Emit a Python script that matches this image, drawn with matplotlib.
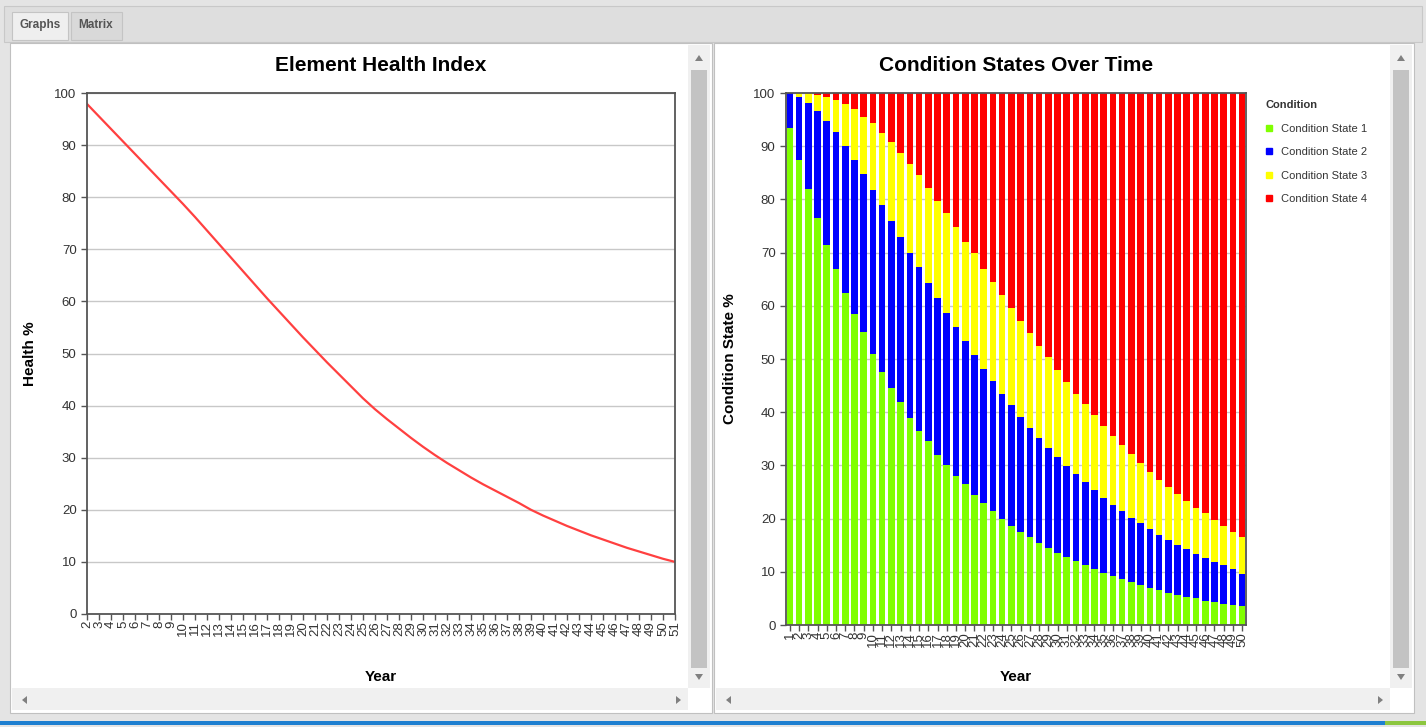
import numpy as np
import matplotlib
matplotlib.use("Agg")
import matplotlib.pyplot as plt
from matplotlib.patches import Rectangle, Polygon
from matplotlib.lines import Line2D

plt.rcParams['font.family'] = ['Liberation Sans', 'DejaVu Sans']

# ---- data ----
health_years = list(range(2, 52))
health_pct = [97.9, 95.5, 93.1, 90.7, 88.3, 85.9, 83.5, 81.1, 78.7, 76.2,
              73.6, 71.0, 68.4, 65.8, 63.2, 60.6, 58.1, 55.6, 53.1, 50.7,
              48.3, 46.0, 43.7, 41.4, 39.3, 37.4, 35.6, 33.8, 32.1, 30.5,
              29.0, 27.6, 26.2, 24.9, 23.7, 22.5, 21.3, 20.0, 18.9, 17.9,
              16.9, 16.0, 15.1, 14.3, 13.5, 12.7, 12.0, 11.3, 10.6, 10.0]

cs_years = list(range(1, 51))
# cumulative tops of each stacked segment
cs1_top = [93.5, 87.5, 82.0, 76.5, 71.5, 67.0, 62.5, 58.5, 55.0, 51.0,
           47.5, 44.5, 42.0, 39.0, 36.5, 34.5, 32.0, 30.0, 28.0, 26.5,
           24.5, 23.0, 21.5, 20.0, 18.7, 17.5, 16.5, 15.5, 14.5, 13.5,
           12.7, 12.0, 11.2, 10.5, 9.8, 9.2, 8.6, 8.0, 7.5, 7.0,
           6.5, 6.1, 5.7, 5.3, 5.0, 4.6, 4.3, 4.0, 3.8, 3.5]
cs2_top = [100.0, 99.3, 98.2, 96.7, 94.8, 92.6, 90.1, 87.4, 84.7, 81.8,
           78.9, 76.0, 73.0, 70.0, 67.2, 64.3, 61.5, 58.7, 56.0, 53.3,
           50.7, 48.2, 45.8, 43.5, 41.3, 39.1, 37.1, 35.2, 33.3, 31.6,
           29.9, 28.3, 26.8, 25.3, 23.9, 22.6, 21.4, 20.2, 19.1, 18.0,
           17.0, 16.0, 15.1, 14.2, 13.4, 12.6, 11.9, 11.2, 10.5, 9.6]
cs3_top = [100.0, 100.0, 100.0, 99.6, 99.2, 98.6, 97.9, 96.9, 95.5, 94.3,
           92.5, 90.8, 88.8, 86.7, 84.5, 82.2, 79.7, 77.4, 74.9, 72.0,
           69.9, 67.0, 64.5, 62.0, 59.5, 57.2, 54.8, 52.5, 50.3, 47.9,
           45.6, 43.5, 41.5, 39.5, 37.5, 35.6, 33.8, 32.1, 30.4, 28.8,
           27.3, 26.0, 24.6, 23.4, 22.0, 21.0, 19.7, 18.6, 17.5, 16.6]

cs_labels = ["Condition State 1", "Condition State 2", "Condition State 3", "Condition State 4"]
cs_colors = ["#80ff00", "#0000ff", "#ffff00", "#ff0000"]

W, H = 1426, 727
fig = plt.figure(figsize=(W / 100, H / 100), dpi=100)
fig.patch.set_facecolor("#e4e4e4")


def px_rect(x, y, w, h, fc, ec="none", lw=0, z=0):
    fig.patches.append(Rectangle((x / W, 1 - (y + h) / H), w / W, h / H,
                                 transform=fig.transFigure, fc=fc, ec=ec, lw=lw, zorder=z))


def px_tri(pts, fc="#808080"):
    fig.patches.append(Polygon([(x / W, 1 - y / H) for x, y in pts], closed=True,
                               transform=fig.transFigure, fc=fc, ec="none", zorder=3))


def px_axes(x0, y0, x1, y1):
    return fig.add_axes([x0 / W, 1 - y1 / H, (x1 - x0) / W, (y1 - y0) / H])


# window chrome: tab strip and panels
px_rect(4, 6, 1418, 36, "#dedede", ec="#c8c8c8", lw=0.8)
px_rect(12, 12, 56, 28, "#efefef", ec="#c4c4c4", lw=0.8, z=1)
px_rect(71, 12, 51, 28, "#d9d9d9", ec="#c4c4c4", lw=0.8, z=1)
fig.text(40 / W, 1 - 25 / H, "Graphs", ha="center", va="center", fontsize=8.5,
         color="#555555", fontweight="bold")
fig.text(96 / W, 1 - 25 / H, "Matrix", ha="center", va="center", fontsize=8.5,
         color="#555555", fontweight="bold")

for px0, px1 in [(10, 712), (714, 1414)]:
    px_rect(px0, 43, px1 - px0, 670, "#ffffff", ec="#c0c0c0", lw=0.8, z=1)
    # vertical scrollbar
    px_rect(px1 - 24, 45, 22, 643, "#f0f0f0", z=2)
    px_rect(px1 - 21, 70, 16, 598, "#c3c3c3", z=2)
    cx = px1 - 13
    px_tri([(cx - 4, 61), (cx + 4, 61), (cx, 55)])
    px_tri([(cx - 4, 674), (cx + 4, 674), (cx, 680)])
    # horizontal scrollbar
    px_rect(px0 + 2, 688, px1 - px0 - 26, 22, "#f0f0f0", z=2)
    px_tri([(px0 + 17, 696), (px0 + 17, 704), (px0 + 12, 700)])
    px_tri([(px1 - 36, 696), (px1 - 36, 704), (px1 - 31, 700)])

px_rect(0, 721, 1385, 4, "#1e7fd0", z=2)
px_rect(1385, 721, 41, 4, "#8cc63f", z=2)


def style_axes(ax):
    ax.set_ylim(0, 100)
    ax.set_yticks(range(0, 101, 10))
    ax.yaxis.grid(True, color="#c8c8c8", lw=1)
    ax.set_axisbelow(True)
    for s in ax.spines.values():
        s.set_color("#555555")
        s.set_linewidth(1.3)
    ax.tick_params(axis="both", direction="out", length=4, width=1, color="#555555",
                   labelsize=9.5, labelcolor="#333333")
    ax.tick_params(axis="x", labelrotation=90, pad=1)
    ax.set_zorder(5)


# ---- left: Element Health Index ----
ax1 = px_axes(87, 93, 675, 614)
ax1.plot(health_years, health_pct, color="#ff4040", lw=1.6)
ax1.set_xlim(2, 51)
ax1.set_xticks(health_years)
ax1.set_xticklabels([str(y) for y in health_years])
style_axes(ax1)
ax1.set_title("Element Health Index", fontsize=15, fontweight="bold", pad=16)
ax1.set_ylabel("Health %", fontsize=11, fontweight="bold")
ax1.yaxis.set_label_coords(-0.085, 0.5)
ax1.set_xlabel("Year", fontsize=11, fontweight="bold")
ax1.xaxis.set_label_coords(0.5, -0.108)

# ---- right: Condition States Over Time ----
ax2 = px_axes(786, 93, 1246, 625)
x = np.array(cs_years)
bottoms = [np.zeros(len(x)), np.array(cs1_top), np.array(cs2_top), np.array(cs3_top)]
tops = [np.array(cs1_top), np.array(cs2_top), np.array(cs3_top), np.full(len(x), 100.0)]
for b, t, c, lab in zip(bottoms, tops, cs_colors, cs_labels):
    ax2.bar(x, t - b, bottom=b, width=0.72, color=c, label=lab, lw=0)
ax2.set_xlim(0.58, 50.42)
ax2.set_xticks(cs_years)
ax2.set_xticklabels([str(y) for y in cs_years])
style_axes(ax2)
ax2.set_title("Condition States Over Time", fontsize=15, fontweight="bold", pad=16)
ax2.set_ylabel("Condition State %", fontsize=11, fontweight="bold")
ax2.yaxis.set_label_coords(-0.107, 0.5)
ax2.set_xlabel("Year", fontsize=11, fontweight="bold")
ax2.xaxis.set_label_coords(0.5, -0.085)

handles = [Line2D([], [], ls="none", marker="s", markersize=5, color=c) for c in cs_colors]
leg = fig.legend(handles, cs_labels, title="Condition", loc="upper left",
                 bbox_to_anchor=(1255 / W, 1 - 90 / H), frameon=False,
                 fontsize=8, title_fontproperties={"weight": "bold", "size": 8},
                 handlelength=0.8, handletextpad=0.6, labelspacing=1.22,
                 alignment="left")
leg.get_title().set_color("#333333")
for t in leg.get_texts():
    t.set_color("#333333")
leg.set_zorder(6)

fig.savefig("out.png", dpi=100, facecolor=fig.get_facecolor())
